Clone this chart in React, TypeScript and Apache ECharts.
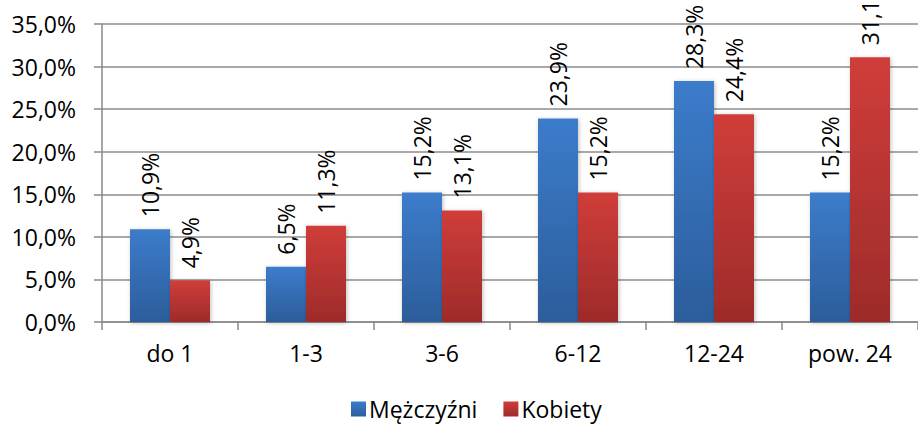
import React, { useEffect, useRef } from "react";
import * as echarts from "echarts";

const categories = ["do 1", "1-3", "3-6", "6-12", "12-24", "pow. 24"];
const men = [10.9, 6.5, 15.2, 23.9, 28.3, 15.2];
const women = [4.9, 11.3, 13.1, 15.2, 24.4, 31.1];
const seriesNames = ["Mężczyźni", "Kobiety"];

const FONT = "'Open Sans', Lato, sans-serif";
const FS = 23;
const fmt = (v: number) => v.toFixed(1).replace(".", ",") + "%";

export default function App() {
  const ref = useRef<HTMLDivElement>(null);
  useEffect(() => {
    const chart = echarts.init(ref.current!, null, { renderer: "svg" });
    const blue = new echarts.graphic.LinearGradient(0, 0, 0, 1, [
      { offset: 0, color: "#3c7ccb" },
      { offset: 1, color: "#2c5d9b" },
    ]);
    const red = new echarts.graphic.LinearGradient(0, 0, 0, 1, [
      { offset: 0, color: "#d03d3a" },
      { offset: 1, color: "#9d2b2a" },
    ]);
    const label = {
      show: true,
      position: "top" as const,
      rotate: 90,
      align: "left" as const,
      verticalAlign: "middle" as const,
      distance: 12,
      fontFamily: FONT,
      fontSize: FS,
      color: "#000",
      formatter: (p: any) => fmt(p.value),
    };
    chart.setOption({
      animation: false,
      grid: { left: 102, top: 24, width: 822, height: 298, containLabel: false },
      legend: {
        left: 346,
        top: 396,
        padding: [0, 5, 0, 5],
        itemWidth: 15,
        itemHeight: 15,
        itemGap: 26,
        icon: "rect",
        textStyle: { fontFamily: FONT, fontSize: FS, color: "#000", padding: [0, 0, 0, -2], lineHeight: 26 },
        data: seriesNames,
      },
      xAxis: {
        type: "category",
        data: categories,
        axisLine: { lineStyle: { color: "#898989", width: 1.5 } },
        axisTick: { show: true, length: 8, lineStyle: { color: "#898989", width: 1.5 } },
        axisLabel: { fontFamily: FONT, fontSize: FS, color: "#000", margin: 19 },
      },
      yAxis: {
        type: "value",
        min: 0,
        max: 35,
        interval: 5,
        axisLine: { show: true, lineStyle: { color: "#898989", width: 1.5 } },
        axisTick: { show: true, length: 8, lineStyle: { color: "#898989", width: 1.5 } },
        splitLine: { lineStyle: { color: "#8c8c8c", width: 1.5 } },
        axisLabel: { fontFamily: FONT, fontSize: FS, color: "#000", margin: 26, formatter: (v: number) => fmt(v) },
      },
      series: [
        {
          name: seriesNames[0],
          type: "bar",
          data: men,
          barWidth: 40,
          barGap: "0%",
          itemStyle: { color: blue, shadowColor: "rgba(0,0,0,0.25)", shadowBlur: 4, shadowOffsetX: 1, shadowOffsetY: 1 },
          label,
        },
        {
          name: seriesNames[1],
          type: "bar",
          data: women,
          barWidth: 40,
          barGap: "0%",
          itemStyle: { color: red, shadowColor: "rgba(0,0,0,0.25)", shadowBlur: 4, shadowOffsetX: 1, shadowOffsetY: 1 },
          label,
        },
      ],
    });
    return () => chart.dispose();
  }, []);
  return (
    <div
      ref={ref}
      style={{ position: "fixed", left: 0, top: 0, width: 918, height: 425, background: "#fff" }}
    />
  );
}
